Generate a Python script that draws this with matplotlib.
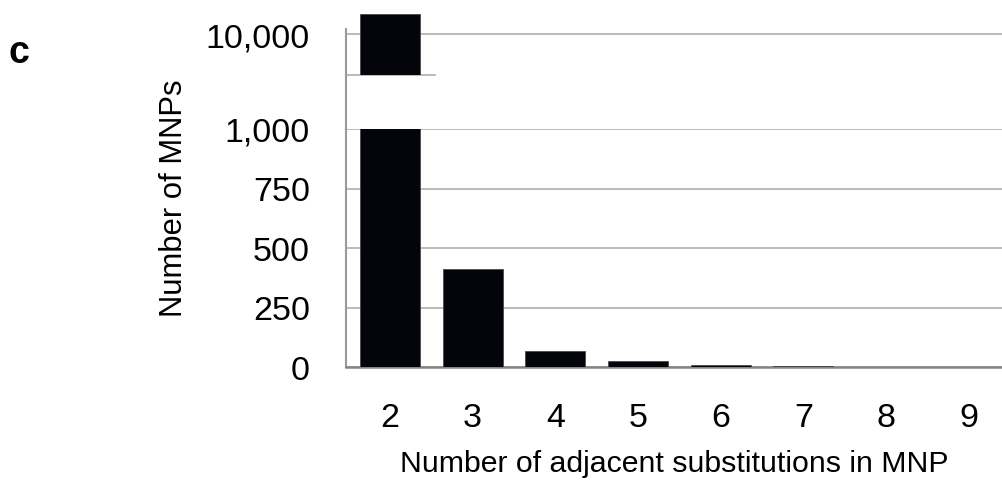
import matplotlib
matplotlib.use('Agg')
import matplotlib.pyplot as plt
from matplotlib.lines import Line2D
from matplotlib.ticker import FuncFormatter

plt.rcParams['font.family'] = ['Liberation Sans', 'DejaVu Sans']

# MNP length (number of adjacent substitutions) and counts
substitutions = [2, 3, 4, 5, 6, 7, 8, 9]
mnp_counts = [12000, 412, 68, 24, 9, 3, 1, 1]

low_ticks = [0, 250, 500, 750, 1000]
high_ticks = [10000]

BAR_COLOR = '#03050a'
GRID_COLOR = '#a8a8a8'
SPINE_COLOR = '#9a9a9a'

W, H = 1002, 481
fig = plt.figure(figsize=(W / 100, H / 100), dpi=100)


def fig_box(left, top, right, bottom):
    # pixel box (top-left origin) -> figure fraction rect
    return [left / W, 1 - bottom / H, (right - left) / W, (bottom - top) / H]


ax_low = fig.add_axes(fig_box(346, 130, 1002, 368))
ax_high = fig.add_axes(fig_box(346, 14, 1002, 76))

thousands = FuncFormatter(lambda v, _: f'{int(v):,}')

for ax in (ax_low, ax_high):
    ax.bar(substitutions, mnp_counts, width=0.725, color=BAR_COLOR,
           edgecolor='#4a4a4a', linewidth=0.6, zorder=3)
    ax.set_xlim(1.47, 9.4)
    ax.set_facecolor('none')
    for side in ('top', 'right'):
        ax.spines[side].set_visible(False)
    ax.spines['left'].set_color(SPINE_COLOR)
    ax.spines['left'].set_linewidth(1.5)
    ax.yaxis.set_major_formatter(thousands)
    ax.tick_params(axis='y', length=0, pad=26, labelsize=24.5)
    ax.grid(axis='y', color=GRID_COLOR, linewidth=1.1, zorder=0)

# lower linear section
ax_low.set_ylim(0, 1000)
ax_low.set_yticks(low_ticks)
ax_low.set_xticks(substitutions)
ax_low.tick_params(axis='x', length=0, pad=25, labelsize=24.5)
ax_low.spines['bottom'].set_color('#858585')
ax_low.spines['bottom'].set_linewidth(1.8)
ax_low.set_xlabel('Number of adjacent substitutions in MNP', fontsize=21.8, labelpad=12)
ax_low.set_ylabel('Number of MNPs', fontsize=22.3)
ax_low.yaxis.set_label_coords(-0.24, 0.715)

# upper section holding the tall bar
ax_high.set_ylim(5900, 12100)
ax_high.set_yticks(high_ticks)
ax_high.set_xticks([])
ax_high.spines['bottom'].set_visible(False)
ax_high.spines['left'].set_bounds(5900, 10500)
ax_high.plot([0, 0.136], [0, 0], transform=ax_high.transAxes,
             color=GRID_COLOR, linewidth=1.1, clip_on=False, zorder=1)

# left axis line running through the break
x_spine = 346 / W
fig.add_artist(Line2D([x_spine, x_spine], [1 - 130 / H, 1 - 76 / H],
                      color=SPINE_COLOR, linewidth=1.5))

fig.text(9 / W, 1 - 53 / H, 'c', fontsize=27, fontweight='bold', va='center')

fig.savefig('out.png', dpi=100)
plt.close(fig)
